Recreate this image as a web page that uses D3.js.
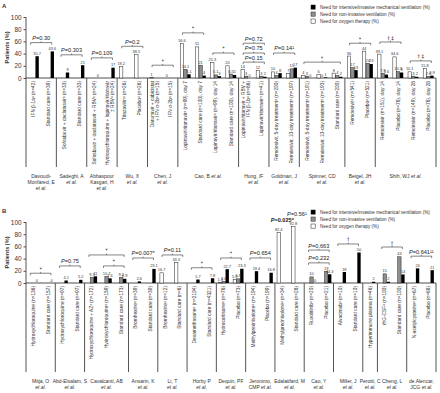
<!DOCTYPE html>
<html><head><meta charset="utf-8">
<script src="https://cdn.jsdelivr.net/npm/d3@7"></script>
<style>
body{margin:0;background:#fff;}
svg{display:block;font-family:"Liberation Sans",Arial,sans-serif;}
</style></head>
<body>
<svg id="c" width="440" height="393"></svg>
<script>
// ---------- DATA: panel A ----------
const studiesA = [["Davoudi-","Monfared, E","et al."],["Sadeghi, A","et al."],["Abbaspour","Kasgari, H","et al."],["Wu, X","et al."],["Chen, J","et al."],["Cao, B et al."],["Hung, IF","et al."],["Goldman, J","et al."],["Spinner, CD","et al."],["Beigel, JH","et al."],["Shih, WJ et al."]];
const catsA = [
 ["IFN β-1a\u1d43 (n=42)"],["Standard care (n=39)"],
 ["Sofosbuvir + daclatasvir\u1d43 (n=33)"],["Standard care (n=33)"],
 ["Sofosbuvir + daclatasvir + RBV\u1d43 (n=24)"],["Hydroxychloroquine + lopinavir/ritonavir","± RBV\u1d43 (n=24)"],
 ["Triazavirin\u1d43 (n=26)"],["Placebo\u1d43 (n=26)"],
 ["Darunavir + cobicistat","+ IFN α-2b\u1d43 (n=15)"],["IFN α-2b\u1d43 (n=15)"],
 ["Lopinavir/ritonavir\u1d43 (n=99), day 7"],["Standard care (n=100), day 7"],["Lopinavir/ritonavir\u1d43 (n=99), day 14"],["Standard care (n=100), day 14"],
 ["Lopinavir/ritonavir + RBV +","IFN β-1b\u1d43 (n=86)"],["Lopinavir/ritonavir\u1d43 (n=41)"],
 ["Remdesivir, 5-day treatment\u1d43 (n=200)"],["Remdesivir, 10-day treatment\u1d43 (n=197)"],
 ["Remdesivir, 5-day treatment\u1d43 (n=191)"],["Remdesivir, 10-day treatment\u1d43 (n=193)"],["Standard care (n=200)"],
 ["Remdesivir\u1d43 (n=541)"],["Placebo\u1d43 (n=521)"],
 ["Remdesivir (n=151), day 14"],["Placebo (n=78), day 14"],["Remdesivir (n=149), day 28"],["Placebo (n=78), day 28"]
];
const groupA = [0,0,1,1,2,2,3,3,4,4,5,5,5,5,6,6,7,7,8,8,8,9,9,10,10,10,10];
const oxyA = [null,null,null,null,null,null,19.2,38.5,1,0,56.6,51,25.3,20,14,12,10,7,4,6,8,36,44,39.1,34.6,10.1,15.8];
const nivA = [null,null,null,null,null,null,null,null,null,null,14.1,21,5.1,6.5,3,3,4,15,3,0,4,17,24,7.9,10.3,3,2.6];
const imvA = [35.7,43.6,9,21,0,17,null,null,null,null,6.1,4,3,5,0,2,8,17,0,1,2,13,23,5.6,9,2,3.9];
const bracketsA = [[0,1,58,"P=0.30"],[2,3,38,"P=0.303"],[4,5,33,"P=0.109"],[6,7,52,"P=0.2"],[8,9,21,"*"],
 [10,11,74,"*"],[12,13,41,"*"],[14,15,57,"P=0.72"],[14,15,41,"P=0.75"],[14,15,26,"P=0.15"],[16,17,41,"P=0.14\u00b9"],
 [18,20,26,"*"],[21,22,57,"*"],[23,24,59,"\u2020 \u2021"],[25,26,28,"\u2020 \u2021"]];

// ---------- DATA: panel B ----------
const studiesB = [["Mitja, O","et al."],["Abd-Elsalam, S","et al."],["Cavalcanti, AB","et al."],["Ansarin, K","et al."],["Li, T","et al."],["Horby P","et al."],["Dequin, PF","et al."],["Jeronimo,","CMP et al."],["Edalatifard, M","et al."],["Cao, Y","et al."],["Miller, J","et al."],["Perotti, C","et al."],["Cheng, L","et al."],["de Alencar,","JCG et al."]];
const catsB = [
 ["Hydroxychloroquine (n=136)"],["Standard care (n=157)"],
 ["Hydroxychloroquine (n=97)"],["Standard care (n=97)"],
 ["Hydroxychloroquine + AZ\u1d43 (n=172)"],["Hydroxychloroquine\u1d43 (n=159)"],["Standard care (n=173)"],
 ["Bromhexine\u1d43 (n=39)"],["Standard care (n=39)"],
 ["Bromhexine\u1d43 (n=12)"],["Standard care (n=6)"],
 ["Dexamethasone\u1d43 (n=2104)"],["Standard care (n=4321)"],
 ["Hydrocortisone\u1d43 (n=76)"],["Placebo (n=73)"],
 ["Methylprednisolone\u1d43 (n=194)"],["Placebo (n=199)"],
 ["Methylprednisolone\u1d43 (n=34)"],["Standard care (n=28)"],
 ["Ruxolitinib\u1d43 (n=20)"],["Placebo (n=21)"],
 ["Alvocimab\u1d43 (n=10)"],["Standard care (n=10)"],
 ["Hyperimmune plasma (n=46)"],
 ["rhG-CSF\u1d43 (n=100)"],["Standard care (n=100)"],
 ["N-acetylcysteine\u1d43 (n=67)"],["Placebo (n=68)"]
];
const groupB = [0,0,1,1,2,2,2,3,3,4,4,5,5,6,6,7,7,8,8,9,9,10,10,11,12,12,13,13];
const oxyB = [null,null,null,null,null,null,null,null,null,16.7,33.3,null,null,1.3,5.5,null,null,82.4,92.8,null,null,null,null,null,null,null,null,null];
const nivB = [null,null,null,null,9.3,10.7,9.2,null,null,null,null,null,null,2.6,6.8,null,null,null,null,10,19,null,null,null,15,43,null,null];
const imvB = [0,0,4.1,5.2,11,7.6,6.9,2.6,23.1,null,null,5.7,7.8,22.7,23.3,19.4,16.8,null,null,0,14.3,18,50,2,2,14,24,21];
const bracketsB = [[0,1,16,"*"],[2,3,28,"P=0.75"],[4,6,46,"*"],[5,6,28,"*"],[7,8,41,"P=0.007*"],[9,10,46,"P=0.11"],
 [11,12,25,"*"],[13,14,41,"*"],[15,16,41,"P=0.654"],[19,20,54,"P=0.663"],[19,20,33,"P=0.232"],[21,22,64,"\u2020"],[24,25,59,"\u2020"],[26,27,44,"P=0.641\u00b9\u00b9"]];
const freeTextB = [[17,90,"P=0.025*"],[18,100,"P=0.56\u00b9"]];

const seriesKeys = ["oxy","niv","imv"];
const seriesNames = {imv:"Need for intensive/invasive mechanical ventilation (%)",niv:"Need for non-invasive ventilation (%)",oxy:"Need for oxygen therapy (%)"};
const fills = {oxy:"#ffffff",niv:"#8f8f8f",imv:"#000000"};
const yTicks = [0,20,40,60,80,100];

const svg = d3.select("#c");
const fmt = v => d3.format("~g")(v);

function panel(opt){
  const {letter, top, base, cats, group, studies, oxy, niv, imv, brackets, legendY, labelBottom, freeText} = opt;
  const g = svg.append("g");
  const x = d3.scaleBand().domain(d3.range(cats.length)).range([26,436]);
  const y = d3.scaleLinear().domain([0,100]).range([base, top]);
  const xi = d3.scaleBand().domain(seriesKeys).range([-5.2,5.2]).paddingInner(0.05);
  const cx = i => x(i) + x.bandwidth()/2;

  g.append("text").attr("x",2).attr("y",top-9).attr("font-size",6).attr("font-weight","bold").attr("fill","#333").text(letter);

  // y axis
  const ax = g.append("g").attr("transform","translate(26,0)").call(d3.axisLeft(y).tickValues(yTicks).tickSize(2.5).tickPadding(2));
  ax.select(".domain").remove();
  ax.selectAll("line").attr("stroke","#222").attr("stroke-width",0.8);
  ax.selectAll("text").attr("font-size",6.4).attr("fill","#333").attr("font-family","Liberation Sans, Arial");
  g.append("line").attr("x1",26).attr("x2",26).attr("y1",top).attr("y2",labelBottom).attr("stroke","#555").attr("stroke-width",1);
  g.append("text").attr("transform",`translate(9,${(top+base)/2}) rotate(-90)`).attr("text-anchor","middle")
    .attr("font-size",5.6).attr("font-weight","bold").attr("fill","#333").text("Patients (%)");

  // baseline
  g.append("line").attr("x1",26).attr("x2",436).attr("y1",base).attr("y2",base).attr("stroke","#222").attr("stroke-width",0.8);

  // separators
  const bounds = [];
  for(let i=1;i<cats.length;i++) if(group[i]!==group[i-1]) bounds.push(x(i));
  bounds.push(436);
  g.selectAll(".sep").data(bounds).join("line").attr("x1",d=>d).attr("x2",d=>d).attr("y1",base).attr("y2",labelBottom)
    .attr("stroke","#555").attr("stroke-width",1);

  // bars
  const rows = [];
  const vals = {oxy, niv, imv};
  cats.forEach((c,i)=>seriesKeys.forEach(k=>{ if(vals[k][i]!==null) rows.push({i,k,v:vals[k][i]}); }));
  g.selectAll(".bar").data(rows).join("rect")
    .attr("x",d=>cx(d.i)+xi(d.k)).attr("width",xi.bandwidth())
    .attr("y",d=>y(d.v)).attr("height",d=>base-y(d.v))
    .attr("fill",d=>fills[d.k]).attr("stroke",d=>d.k==="imv"?"none":"#222").attr("stroke-width",0.5);
  g.selectAll(".vl").data(rows).join("text")
    .attr("x",d=>cx(d.i)+xi(d.k)+xi.bandwidth()/2).attr("y",d=>y(d.v)-1.5)
    .attr("text-anchor","middle").attr("font-size",3.9).attr("fill","#333").text(d=>fmt(d.v));

  // category labels
  cats.forEach((lines,i)=>{
    const t = g.append("text").attr("transform",`translate(${cx(i)+ (lines.length>1?-1:1.6)},${base+3}) rotate(-90)`)
      .attr("text-anchor","end").attr("font-size",4.8).attr("fill","#333");
    lines.forEach((l,j)=>t.append("tspan").attr("x",0).attr("dy",j===0?0:5).text(l));
  });

  // study names
  const groups = d3.groups(d3.range(cats.length), i=>group[i]);
  groups.forEach(([gi, idx])=>{
    const mx = (x(idx[0]) + x(idx[idx.length-1]) + x.bandwidth())/2;
    studies[gi].forEach((line,j)=>{
      const t = g.append("text").attr("x",mx).attr("y",labelBottom+11+j*6).attr("text-anchor","middle").attr("font-size",5).attr("fill","#333");
      const m = line.match(/^(.*?)(et al\.)$/);
      if(m){ if(m[1]) t.append("tspan").text(m[1]); t.append("tspan").attr("font-style","italic").text(m[2]); }
      else t.text(line);
    });
  });

  // brackets
  brackets.forEach(([a,b,lev,lab])=>{
    const x1 = cx(a)-3, x2 = cx(b)+3, yy = y(lev);
    g.append("path").attr("d",`M${x1},${yy+2}V${yy}H${x2}V${yy+2}M${(x1+x2)/2},${yy}v-1.3`)
      .attr("fill","none").attr("stroke","#333").attr("stroke-width",0.6);
    const t = g.append("text").attr("x",(x1+x2)/2).attr("y",yy-2.5).attr("text-anchor","middle")
      .attr("font-size",lab.startsWith("P")?5.6:5).attr("fill","#222")
      .attr("font-family",lab.startsWith("P")?null:"DejaVu Sans");
    if(lab.startsWith("P")){ t.append("tspan").attr("font-style","italic").text("P"); t.append("tspan").text(lab.slice(1)); }
    else t.text(lab);
  });
  (freeText||[]).forEach(([i,lev,lab])=>{
    const t = g.append("text").attr("x",cx(i)).attr("y",y(lev)-6).attr("text-anchor","middle").attr("font-size",5.6).attr("fill","#222").attr("font-weight",i===17?"bold":"normal");
    t.append("tspan").attr("font-style","italic").text("P"); t.append("tspan").text(lab.slice(1));
  });

  // legend
  const lg = g.append("g").attr("transform",`translate(311,${legendY})`);
  ["imv","niv","oxy"].forEach((k,j)=>{
    lg.append("rect").attr("x",0).attr("y",j*7).attr("width",4.2).attr("height",4.2).attr("fill",fills[k]).attr("stroke","#222").attr("stroke-width",0.5);
    lg.append("text").attr("x",9).attr("y",j*7+4).attr("font-size",4.6).attr("fill","#333").text(seriesNames[k]);
  });
}

panel({letter:"A", top:17, base:78, cats:catsA, group:groupA, studies:studiesA, oxy:oxyA, niv:nivA, imv:imvA, brackets:bracketsA, legendY:5, labelBottom:167});
panel({letter:"B", top:222, base:283, cats:catsB, group:groupB, studies:studiesB, oxy:oxyB, niv:nivB, imv:imvB, brackets:bracketsB, legendY:210, labelBottom:372, freeText:freeTextB});
</script>
</body></html>
